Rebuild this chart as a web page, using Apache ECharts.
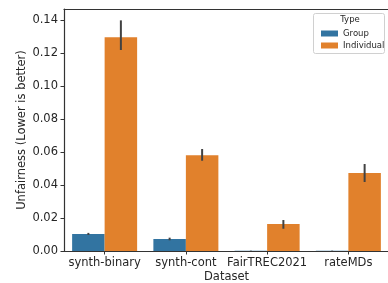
<!DOCTYPE html>
<html><head><meta charset="utf-8">
<script src="https://cdn.jsdelivr.net/npm/echarts@6/dist/echarts.min.js"></script>
<style>html,body{margin:0;padding:0;background:#fff;overflow:hidden}#c{width:388px;height:283px}</style>
</head><body><div id="c"></div>
<script>
const categories = ['synth-binary', 'synth-cont', 'FairTREC2021', 'rateMDs'];
const groupValues = [0.0103, 0.0073, 0.0001, 0.0001];
const groupLow = [0.0097, 0.0065, 0.0000, 0.0000];
const groupHigh = [0.0110, 0.0081, 0.0002, 0.0002];
const indivValues = [0.1297, 0.0581, 0.0164, 0.0473];
const indivLow = [0.1220, 0.0548, 0.0135, 0.0419];
const indivHigh = [0.1400, 0.0619, 0.0188, 0.0528];
const yTicks = [0, 0.02, 0.04, 0.06, 0.08, 0.10, 0.12, 0.14];

const FONT = 'DejaVu Sans';
const BLUE = '#3274A1', ORANGE = '#E1812C', ERR = '#424242', AX = '#333333';

const errData = [];
categories.forEach((c, i) => {
  errData.push([i, groupLow[i], groupHigh[i], -1]);
  errData.push([i, indivLow[i], indivHigh[i], 1]);
});

const chart = echarts.init(document.getElementById('c'), null, {renderer: 'canvas'});
chart.setOption({
  animation: false,
  textStyle: {fontFamily: FONT},
  grid: {left: 64, right: -1, top: 9, bottom: 32, containLabel: false, outerBoundsMode: 'none'},
  legend: {
    data: ['Group', 'Individual'],
    orient: 'vertical',
    left: 316, top: 24,
    itemWidth: 17, itemHeight: 6, itemGap: 3,
    textStyle: {fontFamily: FONT, fontSize: 8.5, color: '#262626'},
    icon: 'rect'
  },
  graphic: [
    {type: 'rect', shape: {x: 313.5, y: 13.5, width: 71, height: 40, r: 2}, style: {fill: 'rgba(255,255,255,0.8)', stroke: '#d0d0d0', lineWidth: 1}, z: 0},
    {type: 'text', x: 350, y: 15.5, style: {text: 'Type', fontFamily: FONT, fontSize: 8.5, fill: '#262626', textAlign: 'center'}, z: 10},
    {type: 'rect', shape: {x: 386.6, y: 10, width: 3, height: 240}, style: {fill: '#ffffff'}, z: 100}
  ],
  xAxis: [{
    type: 'category', data: categories,
    axisLine: {lineStyle: {color: AX, width: 1.2}},
    axisTick: {show: true, alignWithLabel: true, length: 3.5, lineStyle: {color: AX}},
    axisLabel: {fontFamily: FONT, fontSize: 11.5, color: '#262626', margin: 6, interval: 0},
    name: 'Dataset', nameLocation: 'middle', nameGap: 20, nameMoveOverlap: false,
    nameTextStyle: {fontFamily: FONT, fontSize: 11.5, color: '#262626'}
  }, {
    type: 'category', data: categories, position: 'top',
    axisLine: {lineStyle: {color: AX, width: 1.2}},
    axisTick: {show: false}, axisLabel: {show: false}
  }],
  yAxis: {
    type: 'value', min: 0, max: 0.1469, interval: 0.02,
    axisLine: {show: true, lineStyle: {color: AX, width: 1.2}},
    axisTick: {show: true, length: 3.5, lineStyle: {color: AX}},
    splitLine: {show: false},
    axisLabel: {fontFamily: FONT, fontSize: 11.5, color: '#262626', margin: 6, showMaxLabel: false,
      formatter: v => v.toFixed(2)},
    name: 'Unfairness (Lower is better)', nameLocation: 'middle', nameGap: 36, nameMoveOverlap: false,
    nameTextStyle: {fontFamily: FONT, fontSize: 11.5, color: '#262626'}
  },
  series: [
    {name: 'Group', type: 'bar', data: groupValues, itemStyle: {color: BLUE}, barGap: '0%', barCategoryGap: '20%'},
    {name: 'Individual', type: 'bar', data: indivValues, itemStyle: {color: ORANGE}, barGap: '0%', barCategoryGap: '20%'},
    {
      type: 'custom', data: errData, z: 5,
      renderItem: (params, api) => {
        const cat = api.value(0);
        const side = api.value(3);
        const bw = api.size([1, 0])[0];
        const p1 = api.coord([cat, api.value(1)]);
        const p2 = api.coord([cat, api.value(2)]);
        const x = p1[0] + side * bw * 0.2;
        return {type: 'line', shape: {x1: x, y1: p1[1], x2: x, y2: p2[1]},
          style: {stroke: ERR, lineWidth: 2}};
      }
    }
  ]
});
</script></body></html>
